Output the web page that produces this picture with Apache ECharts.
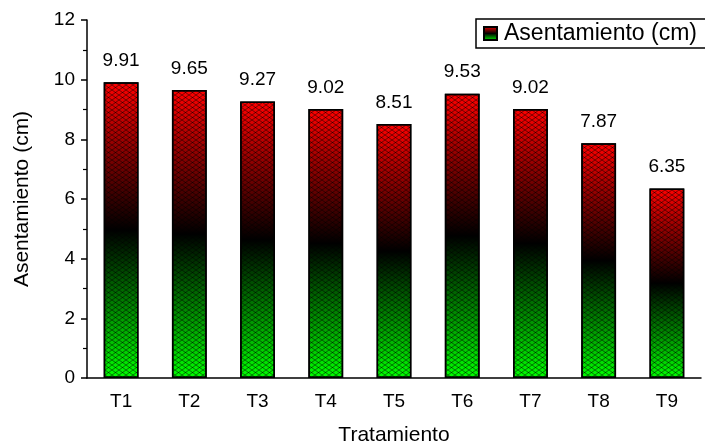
<!DOCTYPE html>
<html>
<head>
<meta charset="utf-8">
<script src="https://cdn.jsdelivr.net/npm/echarts@6/dist/echarts.min.js"></script>
<style>html,body{margin:0;padding:0;background:#fff}#c{width:705px;height:446px}</style>
</head>
<body>
<div id="c"></div>
<script>
var categories = ['T1','T2','T3','T4','T5','T6','T7','T8','T9'];
var values = [9.91, 9.65, 9.27, 9.02, 8.51, 9.53, 9.02, 7.87, 6.35];
var yTicks = [0, 2, 4, 6, 8, 10, 12];
var seriesName = 'Asentamiento (cm)';

var tile = document.createElement('canvas');
tile.width = 7; tile.height = 5;
var g = tile.getContext('2d');
g.strokeStyle = 'rgba(0,0,0,0.5)';
g.lineWidth = 1;
g.beginPath();
g.moveTo(0,0); g.lineTo(7,5);
g.moveTo(7,0); g.lineTo(0,5);
g.stroke();

var grad = new echarts.graphic.LinearGradient(0,0,0,1,[
  {offset:0, color:'#ff0000'},
  {offset:0.5, color:'#000000'},
  {offset:1, color:'#00ff00'}
]);
var font = 'Liberation Sans, Arial, sans-serif';
var chart = echarts.init(document.getElementById('c'));
chart.setOption({
  animation:false,
  grid:{left:87, right:4, top:20, bottom:68, containLabel:false, outerBoundsMode:'none'},
  legend:{
    data:[seriesName], left:476, top:19, itemWidth:13, itemHeight:13,
    borderColor:'#000', borderWidth:1.5, padding:[3,12,3,7], itemGap:4,
    textStyle:{fontSize:23, fontFamily:font, color:'#000', padding:[0,0,0,2]}, icon:'rect'
  },
  xAxis:{
    type:'category', data:categories,
    name:'Tratamiento', nameLocation:'middle', nameGap:47,
    nameTextStyle:{fontSize:21, fontFamily:font, color:'#000'},
    axisLine:{lineStyle:{color:'#000', width:1.5}},
    axisTick:{show:false},
    axisLabel:{fontSize:19, fontFamily:font, color:'#000', margin:14}
  },
  yAxis:{
    type:'value', min:yTicks[0], max:yTicks[yTicks.length-1], interval:2,
    name:'Asentamiento (cm)', nameLocation:'middle', nameGap:54, nameRotate:90,
    nameTextStyle:{fontSize:21, fontFamily:font, color:'#000'},
    axisLine:{show:true, lineStyle:{color:'#000', width:1.5}},
    axisTick:{show:true, length:6, lineStyle:{color:'#000', width:1.5}},
    minorTick:{show:true, splitNumber:2, length:4, lineStyle:{color:'#000', width:1.2}},
    splitLine:{show:false},
    axisLabel:{fontSize:19, fontFamily:font, color:'#000', margin:12}
  },
  series:[
    {
      name:seriesName, type:'bar', data:values, barWidth:'51%', barGap:'-100%',
      itemStyle:{color:grad, borderColor:'#000', borderWidth:1.5},
      label:{show:true, position:'top', distance:12, fontSize:19, fontFamily:font, color:'#000', formatter:function(p){return p.value.toFixed(2);}}
    },
    {
      name:'pattern', type:'bar', data:values, barWidth:'51%', barGap:'-100%', silent:true,
      itemStyle:{color:{image:tile, repeat:'repeat'}, borderColor:'#000', borderWidth:1.5}
    }
  ]
});
</script>
</body>
</html>
